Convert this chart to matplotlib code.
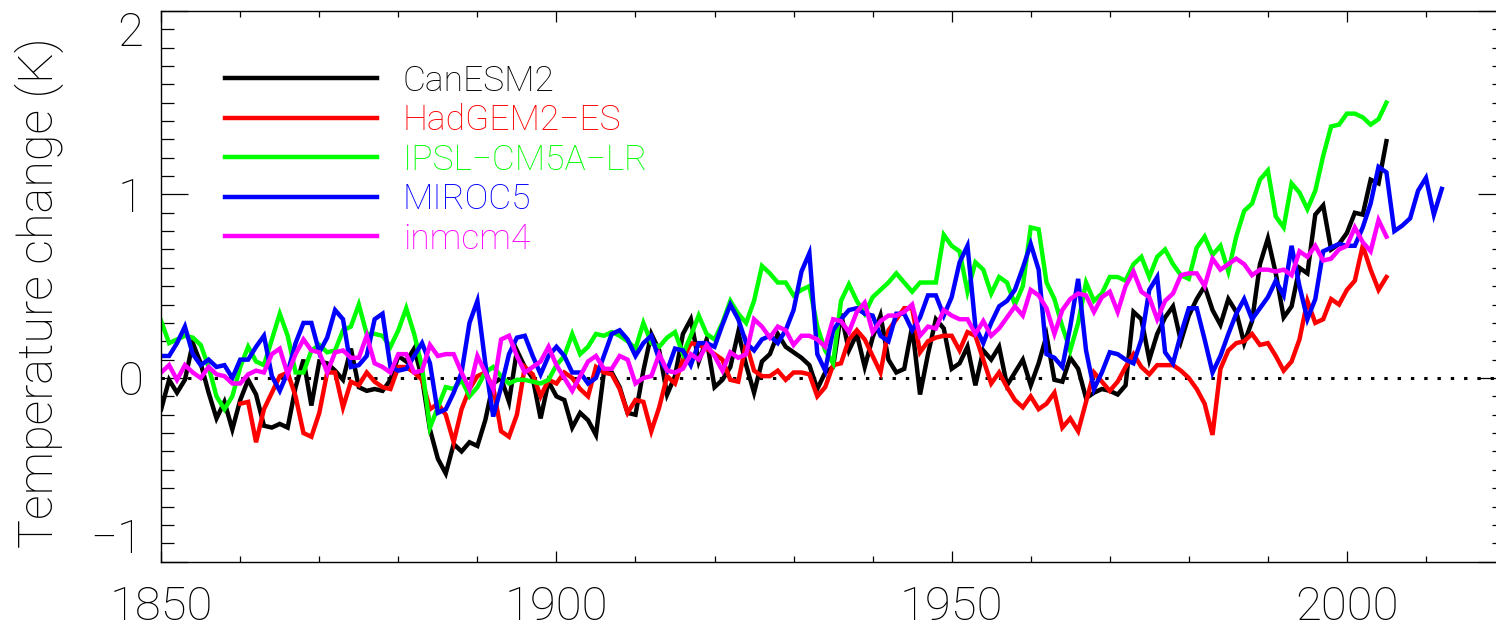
import numpy as np
import matplotlib
matplotlib.use("Agg")
import matplotlib.pyplot as plt
from matplotlib.ticker import MultipleLocator

# Annual global-mean temperature change relative to pre-industrial (K)
canesm2_start = 1850
canesm2 = [
    -0.17, -0.01, -0.08, -0.01, 0.19, 0.08, -0.08, -0.22, -0.13, -0.28,
    -0.12, -0.01, -0.09, -0.26, -0.27, -0.25, -0.27, -0.05, 0.10, -0.15,
    0.09, 0.08, 0.04, -0.01, 0.16, -0.05, -0.07, -0.06, -0.07, -0.01,
    0.12, 0.09, 0.16, 0.00, -0.28, -0.44, -0.52, -0.36, -0.40, -0.35,
    -0.37, -0.23, -0.03, 0.00, -0.13, 0.15, 0.06, 0.00, -0.22, -0.02,
    -0.10, -0.12, -0.27, -0.19, -0.23, -0.31, 0.03, 0.03, -0.05, -0.19,
    -0.20, 0.04, 0.24, 0.15, -0.09, 0.01, 0.24, 0.32, 0.09, 0.21,
    -0.05, -0.01, 0.06, 0.25, 0.07, -0.08, 0.09, 0.13, 0.24, 0.17,
    0.14, 0.11, 0.07, -0.06, 0.03, 0.06, 0.35, 0.15, 0.24, 0.06,
    0.22, 0.34, 0.10, 0.03, 0.05, 0.28, -0.09, 0.13, 0.32, 0.27,
    0.05, 0.08, 0.17, -0.04, 0.15, 0.10, 0.17, -0.04, 0.03, 0.10,
    -0.04, 0.08, 0.23, -0.01, -0.02, 0.11, 0.05, -0.11, -0.08, -0.06,
    -0.07, -0.09, -0.04, 0.36, 0.32, 0.10, 0.24, 0.33, 0.39, 0.20,
    0.34, 0.43, 0.50, 0.37, 0.29, 0.43, 0.36, 0.19, 0.31, 0.62,
    0.76, 0.57, 0.33, 0.39, 0.60, 0.57, 0.89, 0.94, 0.70, 0.73,
    0.79, 0.90, 0.89, 1.08, 1.06, 1.29,
]

hadgem2_start = 1860
hadgem2 = [
    -0.14, -0.13, -0.35, -0.17, -0.08, 0.01, 0.03, -0.10, -0.30, -0.32,
    -0.19, 0.03, 0.03, -0.16, -0.02, -0.04, 0.03, -0.02, -0.05, -0.06,
    0.06, 0.06, 0.03, -0.01, -0.17, -0.14, -0.20, -0.35, -0.17, -0.06,
    0.01, 0.03, -0.05, -0.29, -0.32, -0.20, 0.06, 0.02, -0.10, -0.01,
    -0.03, 0.03, 0.00, -0.06, -0.10, 0.06, 0.03, 0.02, -0.06, -0.19,
    -0.12, -0.13, -0.29, -0.16, 0.01, -0.03, 0.10, 0.19, 0.18, 0.16,
    0.13, 0.10, -0.01, -0.02, 0.19, 0.04, 0.01, 0.01, 0.04, -0.01,
    0.03, 0.03, 0.02, -0.10, -0.05, 0.07, 0.08, 0.21, 0.26, 0.21,
    0.12, 0.03, 0.26, 0.32, 0.38, 0.38, 0.14, 0.20, 0.22, 0.23,
    0.23, 0.15, 0.25, 0.23, 0.10, -0.03, 0.03, -0.05, -0.12, -0.16,
    -0.10, -0.17, -0.14, -0.08, -0.27, -0.22, -0.29, -0.13, 0.03, -0.02,
    -0.07, -0.02, 0.06, 0.13, 0.06, 0.02, 0.07, 0.07, 0.07, 0.04,
    0.00, -0.06, -0.14, -0.31, 0.05, 0.15, 0.19, 0.20, 0.24, 0.18,
    0.19, 0.12, 0.04, 0.09, 0.21, 0.42, 0.30, 0.32, 0.43, 0.40,
    0.48, 0.53, 0.72, 0.59, 0.48, 0.55,
]

ipsl_start = 1850
ipsl = [
    0.31, 0.19, 0.21, 0.23, 0.22, 0.18, 0.06, -0.10, -0.17, -0.10,
    0.06, 0.17, 0.09, 0.07, 0.21, 0.35, 0.23, 0.03, 0.03, 0.15,
    0.18, 0.14, 0.15, 0.26, 0.28, 0.40, 0.24, 0.24, 0.23, 0.17,
    0.26, 0.38, 0.24, 0.06, -0.27, -0.16, -0.05, -0.06, -0.01, -0.10,
    -0.05, 0.03, 0.06, 0.01, -0.03, -0.01, -0.01, -0.02, -0.03, -0.01,
    0.07, 0.12, 0.24, 0.13, 0.17, 0.24, 0.23, 0.25, 0.23, 0.20,
    0.16, 0.30, 0.19, 0.17, 0.22, 0.25, 0.13, 0.23, 0.34, 0.24,
    0.21, 0.30, 0.42, 0.35, 0.30, 0.42, 0.61, 0.57, 0.52, 0.52,
    0.45, 0.48, 0.50, 0.28, 0.15, 0.08, 0.42, 0.51, 0.42, 0.35,
    0.44, 0.48, 0.52, 0.57, 0.52, 0.47, 0.52, 0.52, 0.52, 0.78,
    0.72, 0.69, 0.47, 0.63, 0.59, 0.46, 0.55, 0.52, 0.40, 0.50,
    0.82, 0.81, 0.52, 0.43, 0.28, 0.15, 0.30, 0.52, 0.42, 0.46,
    0.55, 0.55, 0.53, 0.62, 0.66, 0.55, 0.66, 0.70, 0.62, 0.56,
    0.54, 0.71, 0.77, 0.67, 0.72, 0.58, 0.77, 0.91, 0.95, 1.08,
    1.13, 0.88, 0.82, 1.06, 1.01, 0.92, 1.02, 1.21, 1.37, 1.38,
    1.44, 1.44, 1.42, 1.38, 1.41, 1.50,
]

miroc5_start = 1850
miroc5 = [
    0.12, 0.12, 0.19, 0.28, 0.13, 0.07, 0.10, 0.06, 0.07, 0.00,
    0.10, 0.10, 0.17, 0.23, 0.01, -0.07, 0.03, 0.19, 0.30, 0.30,
    0.14, 0.22, 0.37, 0.32, 0.06, 0.07, 0.12, 0.32, 0.35, 0.06,
    0.04, 0.05, 0.12, 0.19, 0.08, -0.19, -0.17, -0.08, 0.03, 0.30,
    0.42, 0.08, -0.21, -0.05, 0.13, 0.22, 0.23, 0.12, 0.02, 0.12,
    0.17, 0.12, 0.03, 0.03, -0.03, 0.00, 0.12, 0.24, 0.26, 0.21,
    0.12, 0.19, 0.23, 0.10, 0.04, 0.16, 0.15, 0.07, 0.19, 0.19,
    0.17, 0.29, 0.40, 0.32, 0.19, 0.15, 0.21, 0.23, 0.19, 0.26,
    0.37, 0.58, 0.68, 0.13, 0.04, 0.26, 0.32, 0.37, 0.38, 0.35,
    0.34, 0.23, 0.20, 0.35, 0.35, 0.26, 0.33, 0.45, 0.45, 0.34,
    0.44, 0.63, 0.72, 0.28, 0.19, 0.30, 0.39, 0.42, 0.48, 0.60,
    0.73, 0.59, 0.13, 0.11, 0.06, 0.28, 0.54, 0.15, -0.06, 0.03,
    0.14, 0.13, 0.10, 0.08, 0.21, 0.48, 0.55, 0.14, 0.08, 0.24,
    0.38, 0.38, 0.21, 0.03, 0.12, 0.24, 0.35, 0.43, 0.32, 0.38,
    0.44, 0.53, 0.45, 0.72, 0.50, 0.32, 0.43, 0.69, 0.71, 0.73,
    0.72, 0.72, 0.82, 0.95, 1.15, 1.12, 0.80, 0.83, 0.87, 1.02,
    1.09, 0.89, 1.03,
]

inmcm4_start = 1850
inmcm4 = [
    0.03, 0.07, -0.01, 0.07, 0.03, 0.00, 0.06, 0.02, 0.01, -0.03,
    -0.03, 0.02, 0.04, 0.03, 0.13, 0.16, 0.02, 0.13, 0.21, 0.15,
    0.14, 0.03, 0.14, 0.15, 0.11, 0.11, 0.23, 0.08, 0.06, 0.03,
    0.13, 0.13, 0.03, 0.04, 0.18, 0.12, 0.13, 0.13, 0.03, -0.06,
    0.12, 0.03, -0.06, 0.21, 0.23, 0.12, 0.03, 0.06, 0.09, 0.17,
    0.07, 0.00, -0.07, 0.01, 0.09, 0.12, 0.05, 0.05, 0.12, 0.10,
    -0.03, 0.00, 0.01, 0.13, 0.04, 0.03, 0.05, 0.13, 0.10, 0.18,
    0.12, 0.04, 0.14, 0.11, 0.13, 0.32, 0.28, 0.22, 0.28, 0.26,
    0.18, 0.23, 0.23, 0.21, 0.17, 0.32, 0.31, 0.25, 0.36, 0.41,
    0.25, 0.31, 0.34, 0.34, 0.36, 0.40, 0.23, 0.28, 0.27, 0.37,
    0.34, 0.32, 0.32, 0.24, 0.31, 0.23, 0.27, 0.33, 0.39, 0.34,
    0.48, 0.45, 0.38, 0.24, 0.37, 0.43, 0.46, 0.45, 0.36, 0.44,
    0.47, 0.36, 0.50, 0.58, 0.47, 0.44, 0.32, 0.42, 0.46, 0.56,
    0.57, 0.57, 0.50, 0.65, 0.59, 0.62, 0.65, 0.62, 0.56, 0.59,
    0.59, 0.58, 0.59, 0.56, 0.69, 0.66, 0.72, 0.64, 0.65, 0.70,
    0.72, 0.82, 0.74, 0.69, 0.86, 0.77,
]

model_names = ["CanESM2", "HadGEM2\u2212ES", "IPSL\u2212CM5A\u2212LR", "MIROC5", "inmcm4"]
model_series = [canesm2, hadgem2, ipsl, miroc5, inmcm4]
model_starts = [canesm2_start, hadgem2_start, ipsl_start, miroc5_start, inmcm4_start]
model_colors = ["#000000", "#ff0000", "#00ff00", "#0000ff", "#ff00ff"]

x_ticks = [1850, 1900, 1950, 2000]
y_ticks = [-1, 0, 1, 2]
y_tick_labels = ["\u22121", "0", "1", "2"]

FONT = ["Roboto", "DejaVu Sans"]
plt.rcParams["font.family"] = FONT
plt.rcParams["font.weight"] = "light"
plt.rcParams["axes.labelweight"] = "light"

fig = plt.figure(figsize=(14.96, 6.31), dpi=100)
ax = fig.add_axes([0.10775, 0.110, 1.00602 - 0.10775, 0.98288 - 0.110])

# dotted zero reference line
ax.axhline(0, color="black", lw=2.2, linestyle=(0, (1.1, 3.25)),
           dash_capstyle="butt", zorder=1)

for name, vals, start, col in zip(model_names, model_series, model_starts, model_colors):
    yrs = start + np.arange(len(vals))
    ax.plot(yrs, vals, color=col, lw=3.2, label=name, zorder=2,
            solid_joinstyle="miter")

ax.set_xlim(1850, 2020)
ax.set_ylim(-1, 2)
ax.set_xticks(x_ticks)
ax.xaxis.set_minor_locator(MultipleLocator(10))
ax.set_yticks(y_ticks, labels=y_tick_labels)
ax.yaxis.set_minor_locator(MultipleLocator(0.1))

ax.tick_params(axis="both", which="both", direction="in",
               top=True, right=True, width=0.9, color="black")
ax.tick_params(axis="x", which="major", length=7.9, pad=17, labelsize=34)
ax.tick_params(axis="x", which="minor", length=4.0)
ax.tick_params(axis="y", which="major", length=19.4, pad=13, labelsize=34)
ax.tick_params(axis="y", which="minor", length=9.7)
for sp in ax.spines.values():
    sp.set_linewidth(1.0)

for lab in ax.get_yticklabels():
    if lab.get_text() == "2":
        lab.set_va("top")
    elif lab.get_text() == "\u22121":
        lab.set_va("bottom")

ax.set_ylabel("Temperature change (K)", fontsize=35, fontweight="light")
ax.yaxis.set_label_coords(-0.0723, 0.489)

leg = ax.legend(loc="upper left", bbox_to_anchor=(0.0475, 0.903),
                frameon=False, fontsize=25.5, labelcolor="linecolor",
                handlelength=4.3, handletextpad=0.72, labelspacing=0.17,
                borderpad=0, borderaxespad=0)

fig.savefig("out.png", dpi=100)
